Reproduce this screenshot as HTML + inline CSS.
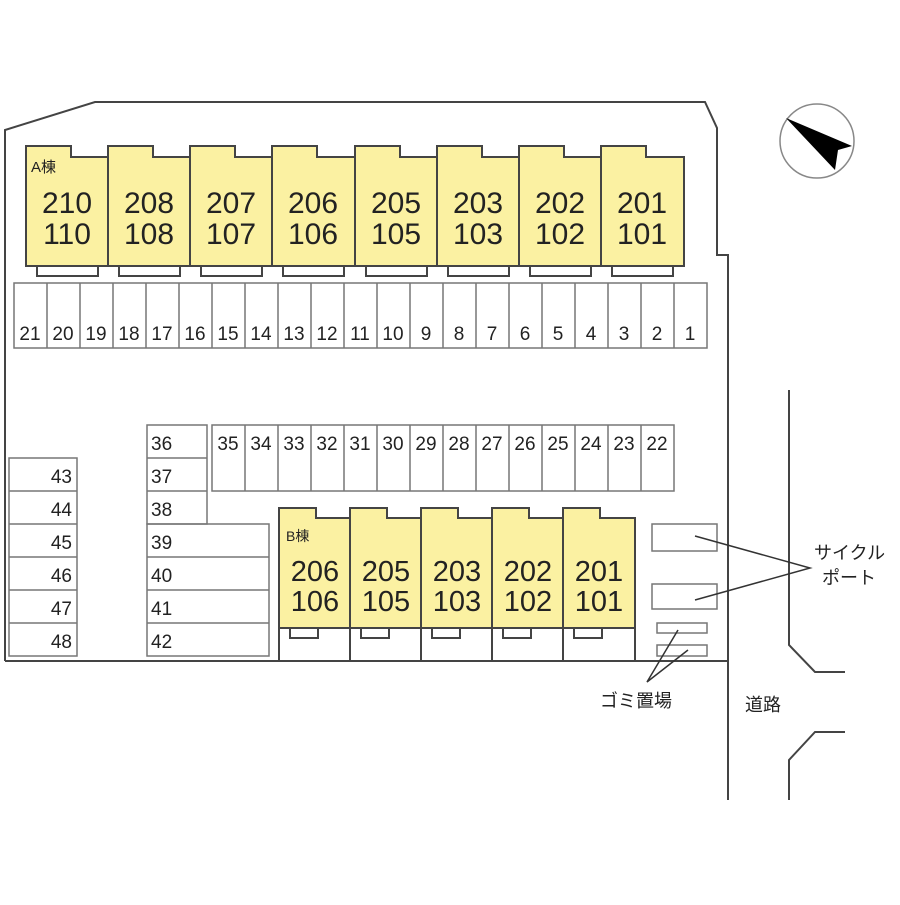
<!DOCTYPE html>
<html><head><meta charset="utf-8"><style>
body{margin:0;background:#fff}
svg text{font-family:"Liberation Sans Narrow","Liberation Sans","Noto Sans CJK JP",sans-serif;fill:#222}
svg text.jp{font-family:"Liberation Sans","Noto Sans CJK JP",sans-serif}
</style></head><body>
<svg width="900" height="900" viewBox="0 0 900 900" xmlns="http://www.w3.org/2000/svg">
<g fill="none" stroke="#444" stroke-width="2">
<polyline points="5,661 5,130 95,102 705,102 717,128 717,255 728,255 728,800"/>
<line x1="5" y1="661" x2="728" y2="661"/>
<polyline points="789,390 789,645 815,672 845,672"/>
<polyline points="845,732 815,732 789,760 789,800"/>
</g>
<circle cx="817" cy="141" r="37" fill="none" stroke="#888" stroke-width="1.5"/>
<polygon points="786,118 852,146 838,150 835,170" fill="#000"/>
<g font-size="30" text-anchor="middle">
<g fill="#fbf1a2" stroke="#444" stroke-width="2">
<path d="M26,146H71V157H108V266H26Z"/><path d="M108,146H153V157H190V266H108Z"/><path d="M190,146H235V157H272V266H190Z"/><path d="M272,146H317V157H355V266H272Z"/><path d="M355,146H400V157H437V266H355Z"/><path d="M437,146H482V157H519V266H437Z"/><path d="M519,146H564V157H601V266H519Z"/><path d="M601,146H646V157H684V266H601Z"/>
</g>
<g fill="none" stroke="#444" stroke-width="2">
<path d="M37,266V276H98V266M119,266V276H180V266M201,266V276H262V266M283,266V276H344V266M366,266V276H427V266M448,266V276H509V266M530,266V276H591V266M612,266V276H673V266"/>
</g>
<text x="67" y="213">210</text><text x="67" y="244">110</text>
<text x="149" y="213">208</text><text x="149" y="244">108</text>
<text x="231" y="213">207</text><text x="231" y="244">107</text>
<text x="313" y="213">206</text><text x="313" y="244">106</text>
<text x="396" y="213">205</text><text x="396" y="244">105</text>
<text x="478" y="213">203</text><text x="478" y="244">103</text>
<text x="560" y="213">202</text><text x="560" y="244">102</text>
<text x="642" y="213">201</text><text x="642" y="244">101</text>
</g>
<text class="jp" x="31" y="172" font-size="15">A棟</text>
<g fill="none" stroke="#777" stroke-width="1.5">
<rect x="14" y="283" width="693" height="65"/>
<path d="M47,283V348M80,283V348M113,283V348M146,283V348M179,283V348M212,283V348M245,283V348M278,283V348M311,283V348M344,283V348M377,283V348M410,283V348M443,283V348M476,283V348M509,283V348M542,283V348M575,283V348M608,283V348M641,283V348M674,283V348"/>
<rect x="212" y="425" width="462" height="66"/>
<path d="M245,425V491M278,425V491M311,425V491M344,425V491M377,425V491M410,425V491M443,425V491M476,425V491M509,425V491M542,425V491M575,425V491M608,425V491M641,425V491"/>
<rect x="147" y="425" width="60" height="99"/><path d="M147,458H207M147,491H207"/>
<rect x="147" y="524" width="122" height="132"/><path d="M147,557H269M147,590H269M147,623H269"/>
<rect x="9" y="458" width="68" height="198"/><path d="M9,491H77M9,524H77M9,557H77M9,590H77M9,623H77"/>
<rect x="652" y="524" width="65" height="27"/><rect x="652" y="584" width="65" height="25"/>
<rect x="657" y="623" width="50" height="10"/><rect x="657" y="645" width="50" height="11"/>
</g>
<g font-size="19" text-anchor="middle">
<text x="30" y="340">21</text><text x="63" y="340">20</text><text x="96" y="340">19</text><text x="129" y="340">18</text><text x="162" y="340">17</text><text x="195" y="340">16</text><text x="228" y="340">15</text><text x="261" y="340">14</text><text x="294" y="340">13</text><text x="327" y="340">12</text><text x="360" y="340">11</text><text x="393" y="340">10</text><text x="426" y="340">9</text><text x="459" y="340">8</text><text x="492" y="340">7</text><text x="525" y="340">6</text><text x="558" y="340">5</text><text x="591" y="340">4</text><text x="624" y="340">3</text><text x="657" y="340">2</text><text x="690" y="340">1</text>
<text x="228" y="450">35</text><text x="261" y="450">34</text><text x="294" y="450">33</text><text x="327" y="450">32</text><text x="360" y="450">31</text><text x="393" y="450">30</text><text x="426" y="450">29</text><text x="459" y="450">28</text><text x="492" y="450">27</text><text x="525" y="450">26</text><text x="558" y="450">25</text><text x="591" y="450">24</text><text x="624" y="450">23</text><text x="657" y="450">22</text>
</g>
<g font-size="19">
<text x="151" y="450">36</text><text x="151" y="483">37</text><text x="151" y="516">38</text><text x="151" y="549">39</text><text x="151" y="582">40</text><text x="151" y="615">41</text><text x="151" y="648">42</text>
</g>
<g font-size="19" text-anchor="end">
<text x="72" y="483">43</text><text x="72" y="516">44</text><text x="72" y="549">45</text><text x="72" y="582">46</text><text x="72" y="615">47</text><text x="72" y="648">48</text>
</g>
<g fill="#fbf1a2" stroke="#444" stroke-width="2">
<path d="M279,508H316V518H350V628H279Z"/><path d="M350,508H387V518H421V628H350Z"/><path d="M421,508H458V518H492V628H421Z"/><path d="M492,508H529V518H563V628H492Z"/><path d="M563,508H600V518H635V628H563Z"/>
</g>
<g fill="none" stroke="#444" stroke-width="2">
<path d="M279,628V661M350,628V661M421,628V661M492,628V661M563,628V661M635,628V661"/>
<path d="M290,628V638H318V628M361,628V638H389V628M432,628V638H460V628M503,628V638H531V628M574,628V638H602V628"/>
</g>
<text class="jp" x="286" y="541" font-size="14">B棟</text>
<g font-size="29" text-anchor="middle">
<text x="315" y="581">206</text><text x="315" y="611">106</text>
<text x="386" y="581">205</text><text x="386" y="611">105</text>
<text x="457" y="581">203</text><text x="457" y="611">103</text>
<text x="528" y="581">202</text><text x="528" y="611">102</text>
<text x="599" y="581">201</text><text x="599" y="611">101</text>
</g>
<g stroke="#333" stroke-width="1.5" fill="none">
<path d="M695,536L810,568L695,600"/>
<path d="M678,630L647,682L688,650"/>
</g>
<g font-size="18">
<text class="jp" x="814" y="559">サイクル</text><text class="jp" x="822" y="584">ポート</text>
<text class="jp" x="600" y="707">ゴミ置場</text><text class="jp" x="745" y="711">道路</text>
</g>
</svg>
</body></html>
